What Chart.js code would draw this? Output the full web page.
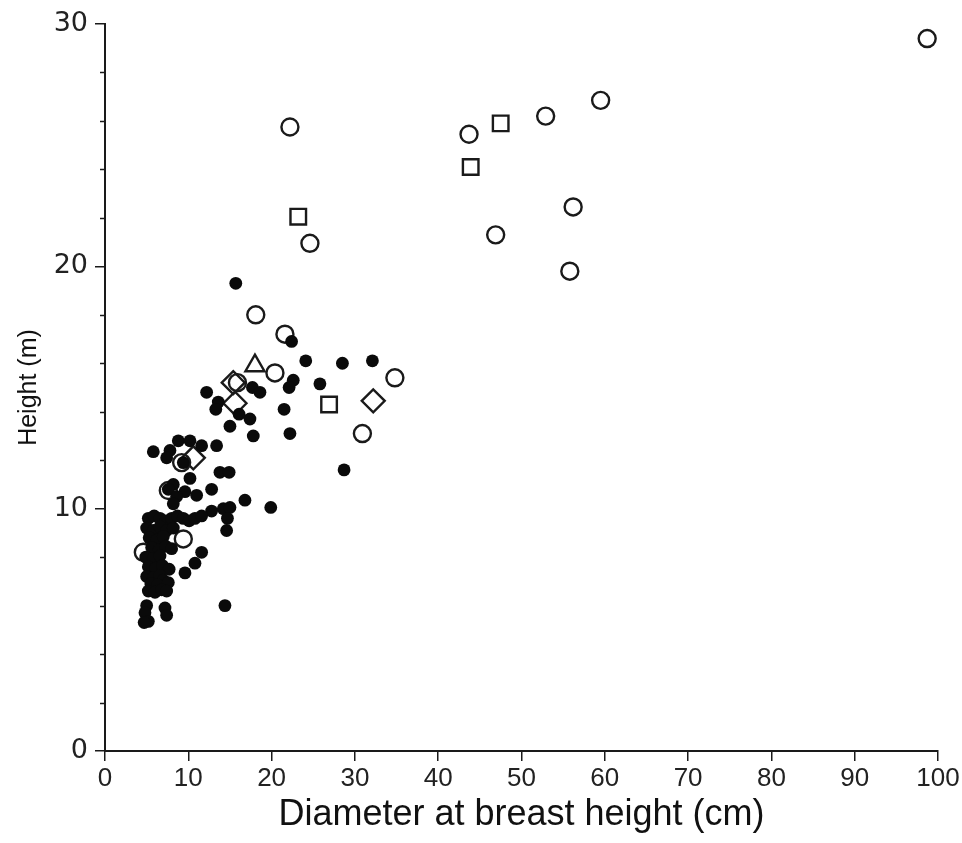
<!DOCTYPE html>
<html>

<head>
    <title>Height vs DBH</title>
    <script src="https://cdn.jsdelivr.net/npm/chart.js"></script>
    <style>
        body {
            margin: 0;
            background: #fff;
        }

        canvas {
            display: block;
        }
    </style>
</head>

<body>
    <canvas id="chart1" width="962" height="843"></canvas>

    <script>
        // [dbh (cm), height (m)]
        const filledDots = [
            [15.7, 19.3], [22.4, 16.9], [24.1, 16.1], [28.5, 16.0], [32.1, 16.1],
            [22.6, 15.3], [22.1, 15.0], [25.8, 15.15], [12.2, 14.8], [17.7, 15.0],
            [18.6, 14.8], [13.6, 14.4], [13.3, 14.1], [16.1, 13.9], [21.5, 14.1],
            [17.4, 13.7], [15.0, 13.4], [17.8, 13.0], [22.2, 13.1], [28.7, 11.6],
            [5.8, 12.35], [13.4, 12.6], [11.6, 12.6], [8.8, 12.8], [10.2, 12.8],
            [7.8, 12.4], [7.4, 12.1], [9.4, 11.9], [13.8, 11.5], [14.9, 11.5],
            [10.2, 11.25], [8.2, 11.0], [7.6, 10.8], [9.6, 10.7], [11.0, 10.55],
            [12.8, 10.8], [8.6, 10.5], [8.2, 10.2], [16.8, 10.35], [19.9, 10.05],
            [12.8, 9.9], [14.2, 10.0], [15.0, 10.05], [14.7, 9.6], [14.6, 9.1],
            [5.2, 9.6], [5.9, 9.7], [6.6, 9.6], [7.3, 9.5], [8.0, 9.6],
            [8.7, 9.7], [9.4, 9.6], [10.1, 9.5], [10.8, 9.6], [11.6, 9.7],
            [5.0, 9.2], [5.8, 9.1], [6.6, 9.25], [7.4, 9.1], [8.2, 9.2],
            [5.3, 8.8], [6.2, 8.7], [7.0, 8.85],
            [5.6, 8.4], [6.5, 8.3], [7.3, 8.45], [8.0, 8.35],
            [4.9, 8.0], [5.8, 7.95], [6.6, 8.05],
            [5.2, 7.6], [6.1, 7.55], [6.9, 7.65], [7.7, 7.5],
            [5.0, 7.2], [5.8, 7.15], [6.6, 7.25], [7.0, 7.05],
            [5.5, 6.9], [6.3, 6.85], [7.6, 6.95],
            [5.2, 6.6], [6.0, 6.55], [6.8, 6.65], [7.4, 6.6],
            [5.0, 6.0], [7.2, 5.9], [4.8, 5.7], [7.4, 5.6], [5.2, 5.35], [4.7, 5.3],
            [11.6, 8.2], [10.8, 7.75], [9.6, 7.35], [14.4, 6.0]
        ];
        const openCircles = [
            [98.7, 29.4], [22.2, 25.75], [24.6, 20.95], [43.7, 25.45], [52.9, 26.2],
            [59.5, 26.85], [56.2, 22.45], [46.9, 21.3], [55.8, 19.8], [18.1, 18.0],
            [21.6, 17.2], [20.4, 15.6], [34.8, 15.4], [30.9, 13.1], [15.9, 15.2],
            [9.2, 11.9], [7.6, 10.75], [9.4, 8.75], [4.6, 8.2]
        ];
        const openSquares = [[23.2, 22.05], [26.9, 14.3], [47.5, 25.9], [43.9, 24.1]];
        const openTriangles = [[18.0, 15.9]];
        const openDiamonds = [[32.2, 14.45], [15.6, 14.35], [15.4, 15.2], [10.6, 12.1]];

        const xTicks = [0, 10, 20, 30, 40, 50, 60, 70, 80, 90, 100];
        const yTicks = [0, 10, 20, 30];
        const yMinorStep = 2;

        const ink = '#1a1a1a';
        const toXY = arr => arr.map(p => ({ x: p[0], y: p[1] }));

        function openSeries(label, arr, style, r) {
            return {
                label: label,
                data: toXY(arr),
                pointStyle: style,
                pointRadius: r,
                pointBorderWidth: 2.4,
                borderColor: ink,
                backgroundColor: 'rgba(0,0,0,0)',
                showLine: false
            };
        }

        // short minor ticks on the y axis, every 2 m
        const minorTicks = {
            id: 'minorTicks',
            afterDraw(chart) {
                const ys = chart.scales.y;
                const ctx = chart.ctx;
                ctx.save();
                ctx.strokeStyle = ink;
                ctx.lineWidth = 1.5;
                for (let v = ys.min; v <= ys.max; v += yMinorStep) {
                    if (yTicks.includes(v)) continue;
                    const py = Math.round(ys.getPixelForValue(v)) + 0.5;
                    ctx.beginPath();
                    ctx.moveTo(ys.right - 5, py);
                    ctx.lineTo(ys.right, py);
                    ctx.stroke();
                }
                ctx.restore();
            }
        };

        new Chart(document.getElementById('chart1'), {
            type: 'scatter',
            data: {
                datasets: [{
                    label: 'filled',
                    data: toXY(filledDots),
                    pointStyle: 'circle',
                    pointRadius: 6.4,
                    pointBorderWidth: 0,
                    backgroundColor: '#0a0a0a',
                    borderColor: '#0a0a0a'
                },
                openSeries('circles', openCircles, 'circle', 8.5),
                openSeries('squares', openSquares, 'rect', 11),
                openSeries('triangles', openTriangles, 'triangle', 11),
                openSeries('diamonds', openDiamonds, 'rectRot', 11.5)
                ]
            },
            options: {
                responsive: false,
                animation: false,
                clip: false,
                layout: { padding: { top: 24, right: 24, left: 0, bottom: 0 } },
                plugins: {
                    legend: { display: false },
                    tooltip: { enabled: false }
                },
                scales: {
                    x: {
                        type: 'linear',
                        min: 0,
                        max: 100,
                        afterBuildTicks: s => { s.ticks = xTicks.map(v => ({ value: v })); },
                        afterFit: s => { s.height = 92; },
                        grid: { drawOnChartArea: false, tickLength: 10, color: ink, lineWidth: 1.5 },
                        border: { color: ink, width: 2 },
                        ticks: {
                            padding: 2,
                            color: '#222',
                            font: { family: 'Liberation Sans', size: 26 }
                        },
                        title: {
                            display: true,
                            text: 'Diameter at breast height (cm)',
                            color: '#111',
                            padding: { top: 0, bottom: 6 },
                            font: { family: 'Liberation Sans', size: 36 }
                        }
                    },
                    y: {
                        type: 'linear',
                        min: 0,
                        max: 30,
                        afterBuildTicks: s => { s.ticks = yTicks.map(v => ({ value: v })); },
                        afterFit: s => { s.width = 105; },
                        grid: { drawOnChartArea: false, tickLength: 10, color: ink, lineWidth: 1.5 },
                        border: { color: ink, width: 2 },
                        ticks: {
                            padding: 7,
                            color: '#222',
                            font: { family: 'DejaVu Sans', size: 27 }
                        },
                        title: {
                            display: true,
                            text: 'Height (m)',
                            color: '#111',
                            padding: { top: 14, bottom: 0 },
                            font: { family: 'Liberation Sans', size: 25 }
                        }
                    }
                }
            },
            plugins: [minorTicks]
        });
    </script>
</body>

</html>
